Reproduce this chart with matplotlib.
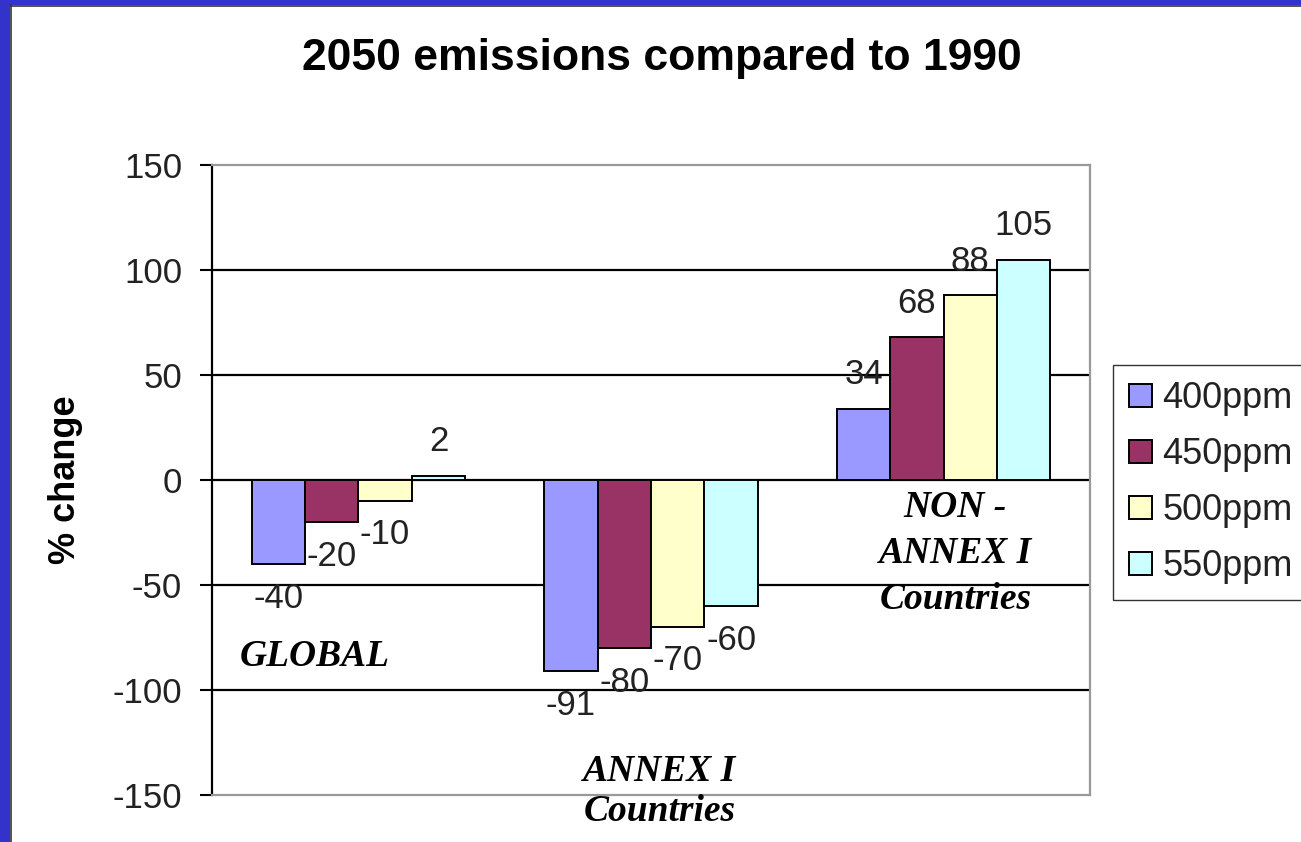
import numpy as np
import matplotlib.pyplot as plt
from matplotlib.patches import Rectangle

# % change of 2050 emissions vs 1990, per stabilisation target
regions = ['GLOBAL', 'ANNEX I\nCountries', 'NON -\nANNEX I\nCountries']
scenarios = ['400ppm', '450ppm', '500ppm', '550ppm']
ppm400 = [-40, -91, 34]
ppm450 = [-20, -80, 68]
ppm500 = [-10, -70, 88]
ppm550 = [2, -60, 105]
colors = ['#9999FF', '#993366', '#FFFFCC', '#CCFFFF']

plt.rcParams['font.family'] = ['Liberation Sans', 'DejaVu Sans']
plt.rcParams['axes.unicode_minus'] = False

fig = plt.figure(figsize=(13.01, 8.42), dpi=100)
fig.patch.set_facecolor('white')

# blue slide frame on the left and top
fig.patches.append(Rectangle((0, 0), 10 / 1301, 1, transform=fig.transFigure,
                             facecolor='#3333CC', edgecolor='none', zorder=0))
fig.patches.append(Rectangle((0, 1 - 5 / 842), 1, 5 / 842, transform=fig.transFigure,
                             facecolor='#3333CC', edgecolor='none', zorder=0))
fig.add_artist(plt.Line2D([10.5 / 1301] * 2, [0, 1 - 5 / 842], transform=fig.transFigure,
                          color='#333333', lw=1.2))
fig.add_artist(plt.Line2D([10.5 / 1301, 1], [1 - 5.5 / 842] * 2, transform=fig.transFigure,
                          color='#333333', lw=1.2))

ax = fig.add_axes([212 / 1301, 1 - 795 / 842, 878 / 1301, 630 / 842])

series = [ppm400, ppm450, ppm500, ppm550]
x = np.arange(len(regions))
width = 0.1825

for i, (vals, name, col) in enumerate(zip(series, scenarios, colors)):
    pos = x + (i - 1.5) * width
    ax.bar(pos, vals, width, color=col, edgecolor='black', linewidth=1.4,
           label=name, zorder=3)
    for px, v in zip(pos, vals):
        ax.annotate(str(v), (px, v), xytext=(0, 34 if v >= 0 else -34),
                    textcoords='offset pixels', ha='center', va='center',
                    fontsize=25, color='#222222', zorder=4)

ax.set_xlim(-0.5, 2.5)
ax.set_ylim(-150, 150)
ax.set_yticks(np.arange(-150, 151, 50))
ax.set_xticks([])
ax.tick_params(axis='y', direction='out', length=8.5, width=1.5, pad=13,
               labelsize=25, labelcolor='#222222')

for yv in [-100, -50, 0, 50, 100]:
    ax.axhline(yv, color='black', lw=1.6, zorder=2)

ax.spines['left'].set_color('black')
ax.spines['left'].set_linewidth(1.6)
for side in ['top', 'right', 'bottom']:
    ax.spines[side].set_color('#999999')
    ax.spines[side].set_linewidth(1.6)

# category names inside the plot area
cat_font = dict(family=['Liberation Serif', 'DejaVu Serif'], style='italic',
                weight='bold', fontsize=27, ha='center', va='center')
ax.text(-0.15, -84, regions[0], **cat_font)
ax.text(1.03, -148.5, regions[1], clip_on=False, linespacing=1.18, **cat_font)
ax.text(2.04, -35, regions[2], linespacing=1.42, **cat_font)

fig.text(0.509, 0.93, '2050 emissions compared to 1990', ha='center', va='center',
         fontsize=32, fontweight='bold')
fig.text(0.05, 0.43, '% change', rotation=90, ha='center', va='center',
         fontsize=26, fontweight='bold')

fig.legend(loc='upper left', bbox_to_anchor=(1113 / 1301, 1 - 365 / 842),
           borderaxespad=0, fontsize=26, frameon=True, fancybox=False,
           edgecolor='black', handlelength=0.62, handleheight=0.62,
           handletextpad=0.3, labelspacing=0.58, borderpad=0.45,
           labelcolor='#222222')

fig.savefig('out.png', dpi=100)
